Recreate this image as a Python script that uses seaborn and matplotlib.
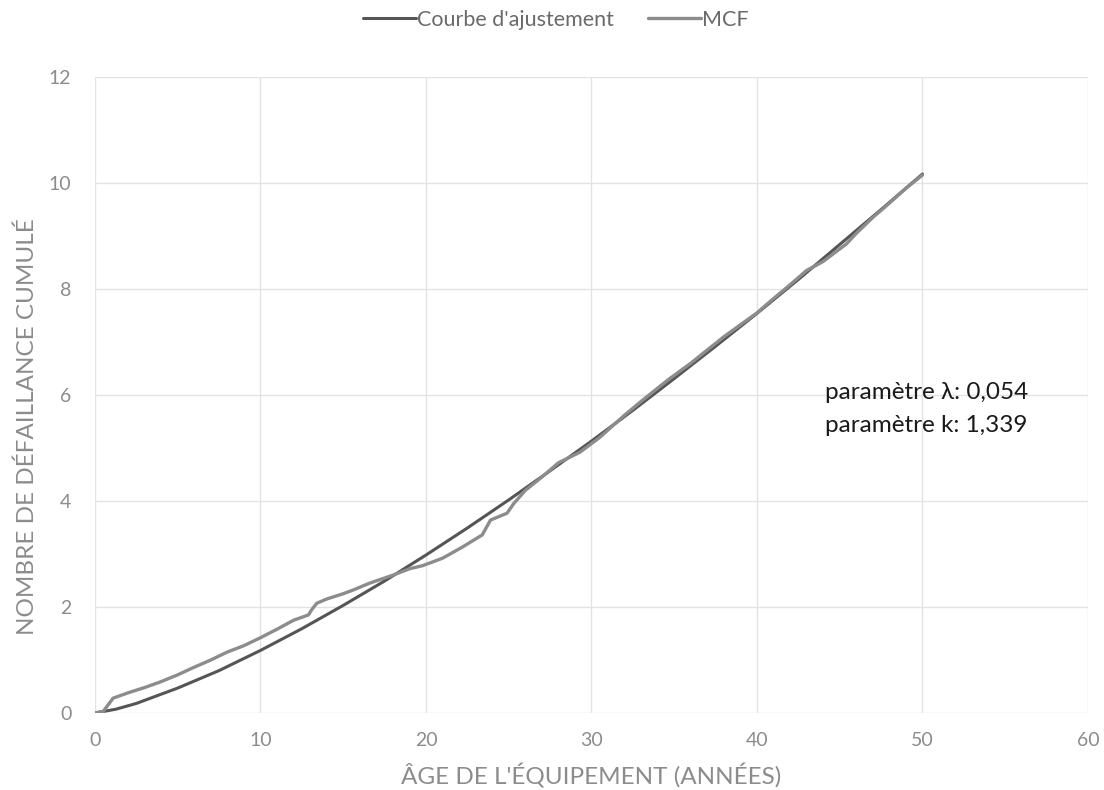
"""
Courbe MCF vs courbe d'ajustement (Weibull / loi de puissance)
"""
# %% IMPORT LIBRARIES
import matplotlib
matplotlib.use("Agg")
import matplotlib.pyplot as plt
import pandas as pd
import seaborn as sns

# %% DATA
fit_age = [0, 1.25, 2.5, 5, 7.5, 10, 12.5, 15, 17.5, 20, 22.5, 25, 27.5, 30,
           32.5, 35, 37.5, 40, 42.5, 45, 47.5, 50]
fit_value = [0, 0.07, 0.18, 0.47, 0.80, 1.18, 1.59, 2.03, 2.49, 2.98, 3.49, 4.02,
             4.57, 5.13, 5.71, 6.31, 6.92, 7.54, 8.18, 8.84, 9.50, 10.17]

mcf_age = [0, 0.5, 1.1, 2, 3, 3.9, 5, 5.9, 7, 8, 9, 10, 11, 12, 12.9, 13.1, 13.4,
           14, 15, 15.6, 16.6, 18, 19, 19.8, 21, 22.2, 23.4, 23.9, 24.9, 25.3, 26,
           27, 28, 29.3, 30.5, 32, 33, 34.6, 36, 38, 40, 41, 42, 43, 44, 45.4, 46,
           47, 48, 49, 50]
mcf_value = [0, 0.03, 0.28, 0.38, 0.48, 0.58, 0.72, 0.85, 1.0, 1.15, 1.27, 1.42,
             1.58, 1.75, 1.85, 1.95, 2.07, 2.15, 2.25, 2.32, 2.45, 2.6, 2.72, 2.78,
             2.92, 3.13, 3.36, 3.64, 3.77, 3.95, 4.2, 4.45, 4.72, 4.92, 5.2, 5.62,
             5.88, 6.28, 6.6, 7.1, 7.55, 7.82, 8.08, 8.35, 8.52, 8.85, 9.05, 9.35,
             9.62, 9.9, 10.15]

x_ticks = [0, 10, 20, 30, 40, 50, 60]
y_ticks = [0, 2, 4, 6, 8, 10, 12]

param_text = "paramètre λ: 0,054\nparamètre k: 1,339"

# %% STYLE
sns.set_style("white")
plt.rcParams['font.family'] = ['Lato', 'DejaVu Sans']
tick_grey = "#8c8c8c"

fit_df = pd.DataFrame({"age": fit_age, "value": fit_value})
mcf_df = pd.DataFrame({"age": mcf_age, "value": mcf_value})

# %% PLOT
fig = plt.figure(figsize=(11.04, 7.90), dpi=100)
ax = fig.add_axes([0.086, 0.0975, 0.8995, 0.805])

sns.lineplot(data=mcf_df, x="age", y="value", ax=ax, color="#8c8c8c",
             linewidth=2.4, label="MCF", sort=False, zorder=3)
sns.lineplot(data=fit_df, x="age", y="value", ax=ax, color="#555555",
             linewidth=2.2, label="Courbe d'ajustement", zorder=2)

ax.set_xlim(0, 60)
ax.set_ylim(0, 12)
ax.set_xticks(x_ticks)
ax.set_yticks(y_ticks)
ax.grid(True, color="#e3e3e3", linewidth=1.0)
ax.set_axisbelow(True)
sns.despine(ax=ax, left=True, bottom=True)
ax.tick_params(axis="both", length=0, labelsize=14, colors=tick_grey)
ax.tick_params(axis="x", pad=14)
ax.tick_params(axis="y", pad=17)

ax.set_xlabel("ÂGE DE L'ÉQUIPEMENT (ANNÉES)", fontsize=17.5, color=tick_grey)
ax.set_ylabel("NOMBRE DE DÉFAILLANCE CUMULÉ", fontsize=17.5, color=tick_grey)
ax.xaxis.set_label_coords(0.50, -0.099)
ax.yaxis.set_label_coords(-0.068, 0.45)
ax.xaxis.label.set_va("center")
ax.yaxis.label.set_va("center")

ax.text(44.1, 6.25, param_text, fontsize=17.5, color="#1a1a1a",
        va="top", ha="left", linespacing=1.7)

# legend : ajustement puis MCF
handles, labels = ax.get_legend_handles_labels()
order = [labels.index("Courbe d'ajustement"), labels.index("MCF")]
leg = ax.legend([handles[i] for i in order], [labels[i] for i in order],
                loc="center", bbox_to_anchor=(0.464, 1.09), ncol=2,
                frameon=False, fontsize=15.5, handlelength=2.45,
                handletextpad=0.05, columnspacing=1.6)
for t in leg.get_texts():
    t.set_color("#6a6a6a")

plt.savefig("out.png", dpi=100)
